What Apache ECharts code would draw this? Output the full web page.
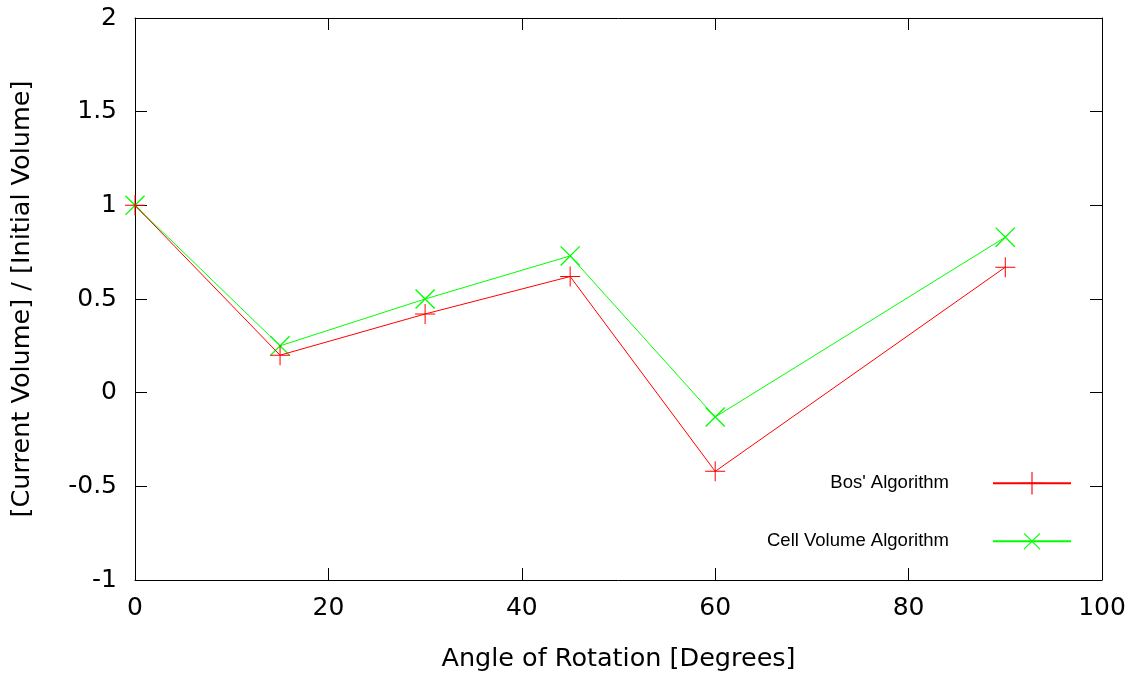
<!DOCTYPE html>
<html>
<head>
<meta charset="utf-8">
<script src="https://cdn.jsdelivr.net/npm/echarts@6/dist/echarts.min.js"></script>
<style>
  html, body { margin: 0; padding: 0; background: #fff; }
  #chart { width: 1142px; height: 677px; }
</style>
</head>
<body>
<div id="chart"></div>
<script>
// angles (degrees) and volume ratios
var angles = [0, 15, 30, 45, 60, 90]
var bosValues = [1, 0.2, 0.42, 0.62, -0.42, 0.67]
var cellValues = [1, 0.25, 0.5, 0.73, -0.13, 0.83]
var seriesNames = ["Bos' Algorithm", 'Cell Volume Algorithm']

// thin plus shape, rotated 45deg for the cross
var plusPath = 'path://M0,9.5h20v1h-20zM9.5,0h1v20h-1z'

function pairs(xs, ys) {
  return xs.map(function (x, i) { return [x, ys[i]] })
}

var chart = echarts.init(document.getElementById('chart'))

var tickFont = { fontFamily: 'DejaVu Sans', fontSize: 25, color: '#000' }
var titleFont = { fontFamily: 'DejaVu Sans', fontSize: 25.5, color: '#000' }

var axisCommon = {
  axisLine: { show: true, onZero: false, lineStyle: { color: '#000', width: 1 } },
  axisTick: { show: true, inside: true, length: 12, lineStyle: { color: '#000' } },
  splitLine: { show: false }
}

var option = {
  animation: false,
  backgroundColor: '#fff',
  grid: { left: 135, right: 40, top: 18, bottom: 96 },
  legend: {
    orient: 'vertical',
    align: 'right',
    right: 65,
    top: 467,
    itemWidth: 78,
    itemHeight: 28,
    itemGap: 31,
    textStyle: {
      fontFamily: 'Liberation Sans',
      fontSize: 18.5,
      color: '#000',
      width: 300,
      align: 'right',
      padding: [0, 39, 0, 0]
    },
    data: seriesNames
  },
  xAxis: [
    Object.assign({
      type: 'value',
      min: 0,
      max: 100,
      interval: 20,
      position: 'bottom',
      name: 'Angle of Rotation [Degrees]',
      nameLocation: 'middle',
      nameGap: 66,
      nameTextStyle: titleFont,
      axisLabel: Object.assign({ margin: 16 }, tickFont)
    }, axisCommon),
    Object.assign({
      type: 'value',
      min: 0,
      max: 100,
      interval: 20,
      position: 'top',
      axisLabel: { show: false }
    }, axisCommon)
  ],
  yAxis: [
    Object.assign({
      type: 'value',
      min: -1,
      max: 2,
      interval: 0.5,
      position: 'left',
      name: '[Current Volume] / [Initial Volume]',
      nameLocation: 'middle',
      nameGap: 100,
      nameTextStyle: titleFont,
      axisLabel: Object.assign({ margin: 18 }, tickFont)
    }, axisCommon),
    Object.assign({
      type: 'value',
      min: -1,
      max: 2,
      interval: 0.5,
      position: 'right',
      axisLabel: { show: false }
    }, axisCommon)
  ],
  series: [
    {
      name: seriesNames[0],
      type: 'line',
      data: pairs(angles, bosValues),
      symbol: plusPath,
      symbolSize: 20,
      lineStyle: { color: '#ff0000', width: 1 },
      itemStyle: { color: '#ff0000' },
      z: 3
    },
    {
      name: seriesNames[1],
      type: 'line',
      data: pairs(angles, cellValues),
      symbol: plusPath,
      symbolSize: 27,
      symbolRotate: 45,
      lineStyle: { color: '#00ff00', width: 1 },
      itemStyle: { color: '#00ff00' },
      z: 2
    }
  ]
}

chart.setOption(option)
</script>
</body>
</html>
